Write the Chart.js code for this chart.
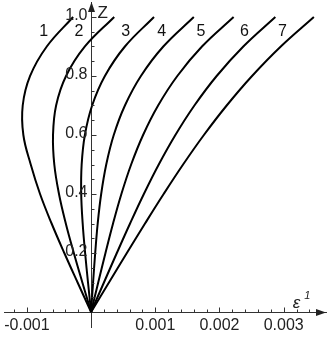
<!DOCTYPE html>
<html><head><meta charset="utf-8">
<script src="https://cdn.jsdelivr.net/npm/chart.js@4"></script>
<style>html,body{margin:0;padding:0;background:#fff;} canvas{display:block;}</style>
</head><body>
<canvas id="c" width="332" height="338"></canvas>
<script>
// ---- data ----
const zValues = [0, 0.1, 0.2, 0.3, 0.4, 0.5, 0.6, 0.7, 0.8, 0.9, 1.0];
const eps1 = [0, -0.000210, -0.000417, -0.000615, -0.000795, -0.000940, -0.001055, -0.001065, -0.000950, -0.000690, -0.000280];
const eps2 = [0, -0.000136, -0.000269, -0.000394, -0.000500, -0.000573, -0.000593, -0.000545, -0.000390, -0.000096, 0.000360];
const eps3 = [0, -0.000048, -0.000093, -0.000131, -0.000154, -0.000147, -0.000097, 0.000016, 0.000215, 0.000527, 0.000980];
const eps4 = [0, 0.000031, 0.000064, 0.000103, 0.000157, 0.000236, 0.000353, 0.000527, 0.000776, 0.001125, 0.001600];
const eps5 = [0, 0.000111, 0.000224, 0.000342, 0.000472, 0.000624, 0.000810, 0.001044, 0.001343, 0.001727, 0.002220];
const eps6 = [0, 0.000200, 0.000401, 0.000607, 0.000822, 0.001054, 0.001313, 0.001609, 0.001956, 0.002371, 0.002870];
const eps7 = [0, 0.000278, 0.000557, 0.000840, 0.001130, 0.001433, 0.001757, 0.002112, 0.002507, 0.002955, 0.003470];
const curveNames = ['1', '2', '3', '4', '5', '6', '7'];
const xTickValues = [-0.001, 0.001, 0.002, 0.003];
const xTickLabels = ['-0.001', '0.001', '0.002', '0.003'];
const yTickValues = [0.2, 0.4, 0.6, 0.8, 1.0];
const yTickLabels = ['0.2', '0.4', '0.6', '0.8', '1.0'];

// ---- chart ----
const allEps = [eps1, eps2, eps3, eps4, eps5, eps6, eps7];
const datasets = allEps.map((arr, k) => ({
  label: curveNames[k],
  data: arr.map((e, i) => ({ x: e, y: zValues[i] })),
  showLine: true,
  borderColor: '#000',
  borderWidth: 2,
  pointRadius: 0,
  tension: 0.4,
  fill: false
}));

const FONT = '"Liberation Sans", Arial, sans-serif';
const labelAnchors = { eps: [-0.00074, -0.00019, 0.00054, 0.00110, 0.00171, 0.00239, 0.00298], z: 0.949 };

const decor = {
  id: 'decor',
  afterDraw(chart) {
    const ctx = chart.ctx, xs = chart.scales.x, ys = chart.scales.y;
    const x0 = Math.round(xs.getPixelForValue(0)) + 0.5;
    const y0 = Math.round(ys.getPixelForValue(0)) + 0.5;
    ctx.save();
    ctx.strokeStyle = '#333';
    ctx.lineWidth = 1;
    // x ticks (inward / upward)
    for (let i = -6; i <= 17; i++) {
      if (i === 0) continue;
      const px = Math.round(xs.getPixelForValue(i * 0.0002)) + 0.5;
      const len = (i % 5 === 0) ? 5 : 3;
      ctx.beginPath(); ctx.moveTo(px, y0); ctx.lineTo(px, y0 - len); ctx.stroke();
    }
    // y ticks (inward / rightward)
    for (let i = 1; i <= 20; i++) {
      const py = Math.round(ys.getPixelForValue(i * 0.05)) + 0.5;
      const len = (i % 4 === 0) ? 5 : 3;
      ctx.beginPath(); ctx.moveTo(x0, py); ctx.lineTo(x0 + len, py); ctx.stroke();
    }
    // arrows
    ctx.fillStyle = '#222';
    const ca = chart.chartArea;
    ctx.beginPath();
    ctx.moveTo(ca.right, y0); ctx.lineTo(ca.right - 10, y0 - 3.5); ctx.lineTo(ca.right - 10, y0 + 3.5); ctx.closePath(); ctx.fill();
    ctx.beginPath();
    ctx.moveTo(x0, ca.top); ctx.lineTo(x0 - 3.5, ca.top + 10); ctx.lineTo(x0 + 3.5, ca.top + 10); ctx.closePath(); ctx.fill();
    // y tick labels (left of the axis)
    ctx.fillStyle = '#222';
    ctx.font = '16px ' + FONT;
    ctx.textAlign = 'right'; ctx.textBaseline = 'middle';
    yTickValues.forEach((v, i) => {
      ctx.fillText(yTickLabels[i], x0 - 4, ys.getPixelForValue(v) - 1);
    });
    // axis labels
    ctx.textAlign = 'left';
    ctx.font = '17px ' + FONT;
    ctx.fillText('Z', x0 + 6, ys.getPixelForValue(1.0) - 4);
    ctx.font = 'italic 17px ' + FONT;
    ctx.fillText('ε', xs.getPixelForValue(0.00314), y0 - 9);
    ctx.font = 'italic 11px ' + FONT;
    ctx.fillText('1', xs.getPixelForValue(0.00332), y0 - 17);
    // curve labels
    ctx.font = '16px ' + FONT;
    ctx.textAlign = 'center';
    ctx.fillStyle = '#111';
    curveNames.forEach((n, k) => {
      ctx.fillText(n, xs.getPixelForValue(labelAnchors.eps[k]), ys.getPixelForValue(labelAnchors.z));
    });
    ctx.restore();
  }
};

new Chart(document.getElementById('c'), {
  type: 'scatter',
  data: { datasets },
  options: {
    responsive: false,
    animation: false,
    devicePixelRatio: 1,
    events: [],
    layout: { padding: { left: 3, right: 6, top: 2, bottom: 11 } },
    plugins: { legend: { display: false }, tooltip: { enabled: false } },
    scales: {
      x: {
        type: 'linear',
        min: -0.001349,
        max: 0.003659,
        position: { y: 0 },
        afterFit: s => { s.height = 0; },
        afterBuildTicks: s => { s.ticks = xTickValues.map(v => ({ value: v })); },
        grid: { display: false, drawTicks: false },
        border: { display: true, color: '#333', width: 1 },
        ticks: {
          autoSkip: false, maxRotation: 0, minRotation: 0, padding: 4,
          color: '#222', font: { family: FONT, size: 16 },
          callback: (v, i) => xTickLabels[i]
        }
      },
      y: {
        type: 'linear',
        min: -0.0508,
        max: 1.0508,
        position: { x: 0 },
        afterFit: s => { s.width = 0; },
        afterBuildTicks: s => { s.ticks = yTickValues.map(v => ({ value: v })); },
        grid: { display: false, drawTicks: false },
        border: { display: true, color: '#333', width: 1 },
        ticks: { display: false }
      }
    }
  },
  plugins: [decor]
});
</script>
</body></html>
